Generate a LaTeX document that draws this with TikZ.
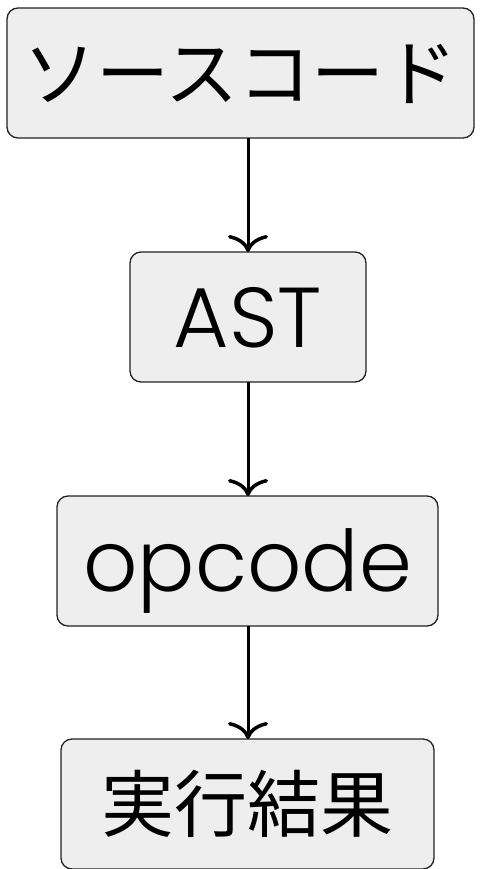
\documentclass[tikz,border=0pt]{standalone}
\usepackage{fontspec}
\setmainfont{Poppins}[UprightFont=* Light]
\newfontfamily\jpfont{Noto Sans CJK JP}
\usetikzlibrary{arrows.meta}
\definecolor{boxfill}{HTML}{EEEEEE}
\definecolor{boxline}{HTML}{222222}
\tikzset{
  flowbox/.style={draw=boxline, line width=1.3pt, fill=boxfill, rounded corners=11pt,
    minimum height=130pt, inner sep=0pt, outer sep=0pt},
  latintext/.style={font=\fontsize{85pt}{85pt}\selectfont, text height=60pt, text depth=0pt},
  jptext/.style={font=\jpfont\fontsize{73pt}{73pt}\selectfont, text height=64.2pt, text depth=8.8pt},
  flowarrow/.style={line width=3pt, -{Computer Modern Rightarrow[length=17pt,width=40pt,line width=3.5pt]}}
}
\begin{document}
\begin{tikzpicture}[x=1pt,y=1pt]
\useasboundingbox (0,0) rectangle (481,-869);
\node[flowbox, jptext, minimum width=467pt] (src) at (240.5,-73) {ソースコード};
\node[flowbox, latintext, minimum width=236pt] (ast) at (248,-317) {AST};
\node[flowbox, latintext, minimum width=381pt] (op) at (247.5,-561) {opcode};
\node[flowbox, jptext, minimum width=373pt] (res) at (247.5,-804) {実行結果};
\draw[flowarrow] (src.south -| ast.north) -- (ast.north);
\draw[flowarrow] (ast.south) -- (ast.south |- op.north);
\draw[flowarrow] (op.south -| ast.south) -- (ast.south |- res.north);
\end{tikzpicture}
\end{document}
